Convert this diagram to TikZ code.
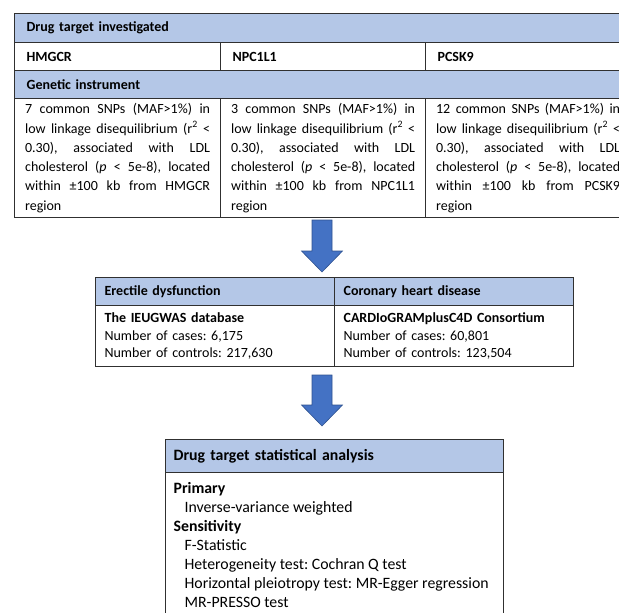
\documentclass[tikz,border=0pt]{standalone}
\usepackage{fontspec}
\setmainfont{Carlito}
\usepackage{tikz}
\usepackage{xcolor}
\usetikzlibrary{calc, positioning}
\frenchspacing
\definecolor{headblue}{HTML}{B4C7E7}
\definecolor{arrowblue}{HTML}{4472C4}
\definecolor{arrowedge}{HTML}{2F528F}
\definecolor{cellline}{HTML}{303030}
\newcommand{\blockarrow}[2]{%
  \filldraw[fill=arrowblue, draw=arrowedge, line width=0.6pt, line join=miter]
  ($(#1)+(-10,0)$) -- ($(#1)+(10,0)$) -- ($(#2)+(10,-21)$) -- ($(#2)+(20.5,-21)$)
  -- (#2) -- ($(#2)+(-20.5,-21)$) -- ($(#2)+(-10,-21)$) -- cycle;}

\begin{document}
\begin{tikzpicture}[x=1pt, y=-1pt,
    cell/.style={draw=cellline, line width=1.2pt, anchor=north west, inner ysep=0pt, align=left},
    head/.style={cell, fill=headblue, font=\bfseries},
    toptext/.style={cell, inner xsep=10.5pt, align=justify, minimum height=119pt, font={\fontsize{14pt}{19.3pt}\selectfont}},
    midtext/.style={cell, inner xsep=9pt, text width=221pt, minimum height=61pt, font={\fontsize{14pt}{17.2pt}\selectfont}}]
    \clip (0, 0) rectangle (619, 613);

    % drug targets and instruments
    \node[head, inner xsep=12pt, text width=592pt, minimum height=29pt, font={\fontsize{14pt}{17pt}\selectfont\bfseries}] (drughead) at (14, 13) {Drug target investigated};
    \node[cell, inner xsep=12pt, text width=182pt, minimum height=28pt, font={\fontsize{14pt}{17pt}\selectfont\bfseries}] (hmgcr) at (14, 42) {HMGCR};
    \node[cell, inner xsep=12pt, text width=181pt, minimum height=28pt, font={\fontsize{14pt}{17pt}\selectfont\bfseries}] (npc) at (220, 42) {NPC1L1};
    \node[cell, inner xsep=12pt, text width=181pt, minimum height=28pt, font={\fontsize{14pt}{17pt}\selectfont\bfseries}] (pcsk) at (425, 42) {PCSK9};
    \node[head, inner xsep=12pt, text width=592pt, minimum height=28pt, font={\fontsize{14pt}{17pt}\selectfont\bfseries}] (genhead) at (14, 70) {Genetic instrument};
    \node[toptext, text width=185pt] (hmgcrsnp) at (14, 98) {7 common SNPs (MAF>1\%) in\linebreak low linkage disequilibrium (r\textsuperscript{2} <\linebreak 0.30), associated with LDL\linebreak cholesterol (\textit{p} < 5e-8), located\linebreak within ±100 kb from HMGCR\linebreak region};
    \node[toptext, text width=184pt] (npcsnp) at (220, 98) {3 common SNPs (MAF>1\%) in\linebreak low linkage disequilibrium (r\textsuperscript{2} <\linebreak 0.30), associated with LDL\linebreak cholesterol (\textit{p} < 5e-8), located\linebreak within ±100 kb from NPC1L1\linebreak region};
    \node[toptext, text width=184pt] (pcsksnp) at (425, 98) {12 common SNPs (MAF>1\%) in\linebreak low linkage disequilibrium (r\textsuperscript{2} <\linebreak 0.30), associated with LDL\linebreak cholesterol (\textit{p} < 5e-8), located\linebreak within ±100 kb from PCSK9\linebreak region};

    % outcomes
    \node[head, inner xsep=9pt, text width=221pt, minimum height=28pt, font={\fontsize{14pt}{17pt}\selectfont\bfseries}] (edhead) at (95, 277) {Erectile dysfunction};
    \node[head, inner xsep=9pt, text width=221pt, minimum height=28pt, font={\fontsize{14pt}{17pt}\selectfont\bfseries}] (chdhead) at (334, 277) {Coronary heart disease};
    \node[midtext] (edtext) at (95, 305) {\textbf{The IEUGWAS database}\\Number of cases: 6,175\\Number of controls: 217,630};
    \node[midtext] (chdtext) at (334, 305) {\textbf{CARDIoGRAMplusC4D Consortium}\\Number of cases: 60,801\\Number of controls: 123,504};

    % analysis
    \node[head, inner xsep=8pt, text width=322pt, minimum height=33pt, font={\fontsize{15.8pt}{19pt}\selectfont\bfseries}] (stathead) at (165, 439) {Drug target statistical analysis};
    \node[cell, inner xsep=8pt, inner ysep=9.5pt, font={\fontsize{15.8pt}{19pt}\selectfont}] (stattext) at (165, 472) {\parbox[c][140pt][t]{322pt}{\textbf{Primary}\\
        \hspace*{11pt}Inverse-variance weighted\\
        \textbf{Sensitivity}\\
        \hspace*{11pt}F-Statistic\\
        \hspace*{11pt}Heterogeneity test: Cochran Q test\\
        \hspace*{11pt}Horizontal pleiotropy test: MR-Egger regression\\
        \hspace*{11pt}MR-PRESSO test}};

    \coordinate (arrowatop) at (322, 220);
    \coordinate (arrowatip) at (322, 272);
    \coordinate (arrowbtop) at (322, 375);
    \coordinate (arrowbtip) at (322, 426);
    \blockarrow{arrowatop}{arrowatip}
    \blockarrow{arrowbtop}{arrowbtip}
\end{tikzpicture}
\end{document}
